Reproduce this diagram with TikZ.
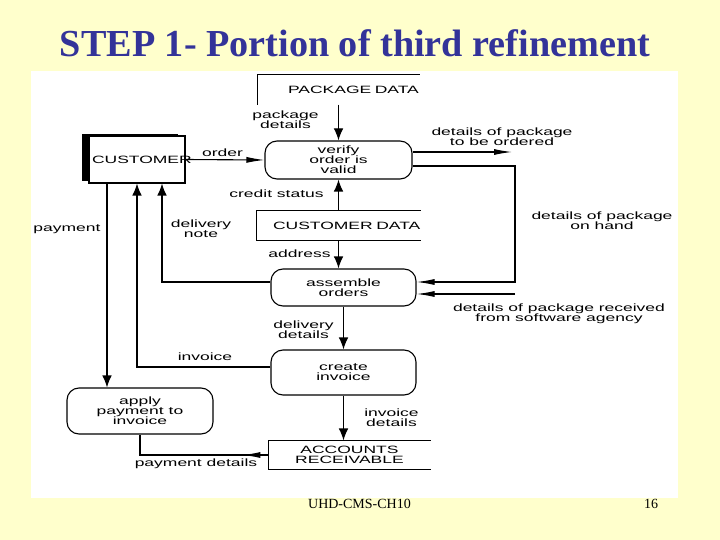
\documentclass[tikz,border=0pt]{standalone}
\usepackage{fontspec}
\setmainfont{Liberation Serif}
\newfontfamily\dfdfont[FakeStretch=1.65]{Liberation Sans}
\usepackage{tikz}
\usetikzlibrary{arrows.meta,shadows,decorations.markings}
\definecolor{slidebg}{RGB}{255,255,204}
\definecolor{titleblue}{RGB}{51,51,153}

\begin{document}
\begin{tikzpicture}
    [   x=1pt, y=-1pt, line width=1.1pt,
        every node/.style={font=\dfdfont\fontsize{10.6}{10}\selectfont, align=center, inner sep=0pt},
        pnode/.style={draw=black, fill=white, rounded corners=12pt, minimum width=145pt, minimum height=38pt},
        enode/.style={draw=black, fill=white, minimum width=96pt, minimum height=47pt,
            text width=90pt, align=left, inner xsep=3pt,
            general shadow={fill=black, shadow xshift=-7pt, shadow yshift=2pt}},
        snode/.style={minimum height=29pt},
        vflow/.style={-{Latex[length=12pt,width=9.5pt]}},
        hflow/.style={-{Latex[length=18pt,width=6pt]}},
        midflow/.style={postaction={decorate}, decoration={markings,
            mark=at position 26pt with {\arrow{Latex[length=18pt,width=6pt]}}}},
    ]
        % slide
        \useasboundingbox (0,0) rectangle (720,540);
        \fill[slidebg] (0,0) rectangle (720,540);
        \fill[white] (31,71) rectangle (678,498);
        \node[font=\fontsize{38.2}{40}\selectfont\bfseries, text=titleblue, anchor=base] (title) at (355,57) {STEP 1- Portion of third refinement};
        \node[font=\fontsize{14}{16}\selectfont, anchor=base] (footer) at (359.5,508) {UHD-CMS-CH10};
        \node[font=\fontsize{14}{16}\selectfont, anchor=base] (pageno) at (651,508) {16};

        % draw the nodes
        \node[enode] (customer) at (137,159.5) {\mbox{CUSTOMER}};
        \node[pnode, minimum width=147pt] (verify) at (338.5,160) {verify\\order is\\valid};
        \node[pnode, minimum height=37pt] (assemble) at (343.5,287.5) {assemble\\orders};
        \node[pnode, minimum height=45pt] (create) at (343.5,372.5) {create\\invoice};
        \node[pnode, minimum width=146pt, minimum height=46pt] (apply) at (140,411) {apply\\payment to\\invoice};
        \node[snode, text width=101pt, align=left, inner xsep=30pt] (packdata) at (338.5,89.5) {\mbox{PACKAGE DATA}};
        \node[snode, text width=131pt, align=left, inner xsep=16pt] (custdata) at (338.5,225.5) {\mbox{CUSTOMER DATA}};
        \node[snode, minimum width=161pt, minimum height=28pt] (accrec) at (349.5,455) {ACCOUNTS\\RECEIVABLE};
        \draw (packdata.north east) -- (packdata.north west) -- (packdata.south west);
        \foreach \s in {custdata,accrec}
            \draw (\s.north east) -- (\s.north west) -- (\s.south west) -- (\s.south east);

        % draw the labels
        \node (lpkg) at (285.5,119.5) {package\\details};
        \node (lorder) at (222.5,153) {order};
        \node (ltoorder) at (502,137) {details of package\\to be ordered};
        \node (lcredit) at (276.5,194) {credit status};
        \node (lonhand) at (602,220.5) {details of package\\on hand};
        \node (lpayment) at (67,229) {payment};
        \node (ldelnote) at (201,228.5) {delivery\\note};
        \node (laddress) at (299.5,254) {address};
        \node (lagency) at (559,313.5) {details of package received\\from software agency};
        \node (ldeldet) at (303.5,330) {delivery\\details};
        \node (linvoice) at (205,357) {invoice};
        \node (linvdet) at (391.5,418) {invoice\\details};
        \node (lpaydet) at (196,464) {payment details};

        % draw the lines
        \coordinate (toorder) at (512,152);
        \coordinate (onhand) at (515,166);
        \coordinate (agency) at (515,294);
        \draw[vflow] (packdata.south) -- (verify.north);
        \draw[hflow] (customer.east) -- (verify.west);
        \draw[hflow] (toorder -| verify.east) -- (toorder);
        \draw[hflow] (onhand -| verify.east) -- (onhand) |- ([yshift=5.5pt]assemble.east);
        \draw[hflow] (agency) -- (agency -| assemble.east);
        \draw[vflow] (custdata.north) -- (verify.south);
        \draw[vflow] (custdata.south) -- (custdata.south |- assemble.north);
        \draw[vflow] ([yshift=5.5pt]assemble.west) -| ([xshift=25pt]customer.south);
        \draw[vflow] ([yshift=5.5pt]create.west) -| (customer.south);
        \draw[vflow] ([xshift=-30pt]customer.south) -- ([xshift=-30pt]customer.south |- apply.north);
        \draw[vflow] (assemble.south) -- (assemble.south |- create.north);
        \draw[vflow] (create.south) -- (create.south |- accrec.north);
        \draw[midflow] (accrec.west) -| (apply.south);
    \end{tikzpicture}
\end{document}
